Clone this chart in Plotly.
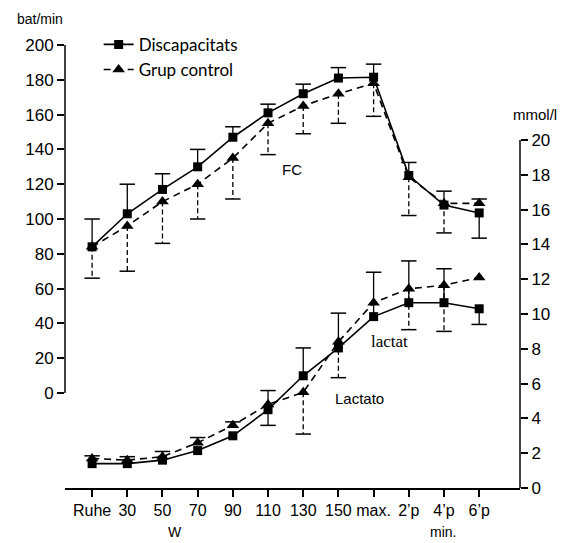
import plotly.graph_objects as go

# x categories
etapes = ["Ruhe", "30", "50", "70", "90", "110", "130", "150", "max.", "2’p", "4’p", "6’p"]
xpos = list(range(len(etapes)))

# heart rate (bat/min)
fc_disc = [84, 103, 117, 130, 147, 161, 172, 181, 181.5, 125, 108, 103.5]
fc_ctrl = [84, 96, 110, 120, 135, 155, 165, 172, 178, 124, 109, 109]
fc_disc_up = [16, 17, 9, 10, 6, 5, 5.5, 6, 7.5, 7.5, 8, 0]
fc_disc_dn = [0, 0, 0, 0, 0, 0, 0, 0, 0, 0, 0, 14.5]
fc_ctrl_up = [0, 0, 0, 0, 0, 0, 0, 0, 0, 0, 0, 2.5]
fc_ctrl_dn = [18, 26, 24, 20, 23.5, 18, 16, 17, 19, 22, 17, 0]

# lactate (mmol/l)
lac_disc = [1.4, 1.4, 1.6, 2.15, 3.0, 4.5, 6.45, 8.05, 9.85, 10.65, 10.65, 10.3]
lac_ctrl = [1.7, 1.6, 1.8, 2.6, 3.6, 4.8, 5.5, 8.4, 10.65, 11.45, 11.65, 12.1]
lac_disc_up = [0, 0, 0, 0, 0, 1.1, 1.6, 2.0, 2.55, 2.4, 1.95, 0]
lac_disc_dn = [0, 0, 0, 0, 0, 0.9, 0, 0, 0, 0, 0, 0.9]
lac_ctrl_up = [0.15, 0.2, 0.3, 0.3, 0.2, 0, 0, 0, 0, 0, 0, 0]
lac_ctrl_dn = [0, 0, 0, 0, 0, 0, 2.4, 2.06, 0, 2.35, 2.65, 0]

fc_ticks = list(range(0, 201, 20))
lac_ticks = list(range(0, 21, 2))


def err_traces(vals, up, dn, dash, yaxis):
    xs, ys, cx, cy = [], [], [], []
    for x, v, u, d in zip(xpos, vals, up, dn):
        for e in (u, -d):
            if e:
                xs += [x, x, None]
                ys += [v, v + e, None]
                cx.append(x)
                cy.append(v + e)
    seg = go.Scatter(x=xs, y=ys, mode="lines", yaxis=yaxis, showlegend=False,
                     line=dict(color="black", width=1.3, dash=dash), hoverinfo="skip")
    caps = go.Scatter(x=cx, y=cy, mode="markers", yaxis=yaxis, showlegend=False,
                      marker=dict(symbol="line-ew", size=11, line=dict(color="black", width=1.5)),
                      hoverinfo="skip")
    return [seg, caps]


fig = go.Figure()

for vals, up, dn, ax in [(fc_disc, fc_disc_up, fc_disc_dn, "y"), (lac_disc, lac_disc_up, lac_disc_dn, "y2")]:
    fig.add_traces(err_traces(vals, up, dn, "solid", ax))
for vals, up, dn, ax in [(fc_ctrl, fc_ctrl_up, fc_ctrl_dn, "y"), (lac_ctrl, lac_ctrl_up, lac_ctrl_dn, "y2")]:
    fig.add_traces(err_traces(vals, up, dn, "5px,3px", ax))

sq = dict(symbol="square", size=9, color="black")
tri = dict(symbol="triangle-up", size=11, color="black")

fig.add_trace(go.Scatter(x=xpos, y=fc_disc, mode="lines+markers", name="Discapacitats",
                         legendgroup="d", line=dict(color="black", width=1.6), marker=sq))
fig.add_trace(go.Scatter(x=xpos, y=fc_ctrl, mode="lines+markers", name="Grup control",
                         legendgroup="c", line=dict(color="black", width=1.6, dash="7px,5px"), marker=tri))
fig.add_trace(go.Scatter(x=xpos, y=lac_disc, mode="lines+markers", yaxis="y2", showlegend=False,
                         legendgroup="d", line=dict(color="black", width=1.6), marker=sq))
fig.add_trace(go.Scatter(x=xpos, y=lac_ctrl, mode="lines+markers", yaxis="y2", showlegend=False,
                         legendgroup="c", line=dict(color="black", width=1.6, dash="7px,5px"), marker=tri))

font = "Liberation Sans, Arial, sans-serif"
axis_style = dict(ticks="outside", ticklen=7, tickwidth=1.5, tickcolor="black",
                  showgrid=False, zeroline=False)

# the page body adds 8px around the figure, margins are shifted to compensate
fig.update_layout(
    width=574, height=543,
    margin=dict(l=57, r=62, t=37, b=63),
    plot_bgcolor="white", paper_bgcolor="white",
    font=dict(family=font, size=16, color="black"),
    legend=dict(x=0.074, y=1.041, xanchor="left", yanchor="top", bgcolor="rgba(0,0,0,0)",
                font=dict(family="Lato, Open Sans, sans-serif", size=17), itemwidth=30,
                tracegroupgap=0),
    xaxis=dict(range=[-0.77, 12.16], tickvals=xpos, ticktext=etapes,
               showline=True, linecolor="black", linewidth=1.5, **axis_style),
    yaxis=dict(range=[-54.6, 200], tickvals=fc_ticks, tickfont=dict(size=17),
               showline=False, **axis_style),
    yaxis2=dict(range=[0, 25.46], tickvals=lac_ticks, overlaying="y", side="right",
                anchor="x", tickfont=dict(size=17), showline=False, **axis_style),
)

# axis lines only over the labelled spans
fig.add_shape(type="line", xref="paper", x0=0, x1=0, yref="y", y0=0, y1=200,
              line=dict(color="black", width=1.5))
fig.add_shape(type="line", xref="paper", x0=1, x1=1, yref="y2", y0=0, y1=20,
              line=dict(color="black", width=1.5))

notes = [
    ("bat/min", -0.11, 1.058, "left", font, 14),
    ("mmol/l", 0.98, 0.842, "left", font, 15),
    ("FC", 0.4725, 0.718, "left", font, 15),
    ("lactat", 0.714, 0.33, "center", "Liberation Serif, serif", 17),
    ("Lactato", 0.648, 0.203, "center", font, 15),
    ("W", 0.242, -0.1, "center", font, 14),
    ("min.", 0.831, -0.1, "center", font, 14),
]
for txt, x, y, xa, fam, sz in notes:
    fig.add_annotation(text=txt, x=x, y=y, xref="paper", yref="paper", xanchor=xa,
                       yanchor="middle", showarrow=False, font=dict(family=fam, size=sz))

fig.write_html("out.html")
